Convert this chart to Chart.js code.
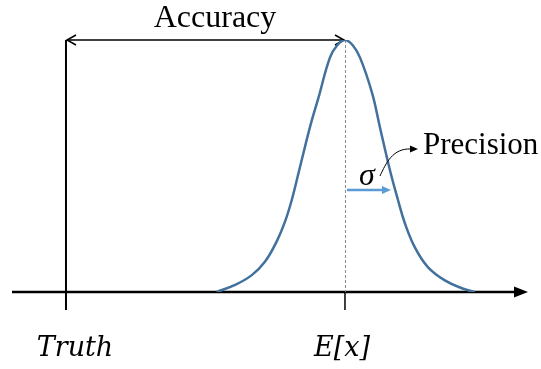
<!DOCTYPE html>
<html>
<head>
<meta charset="utf-8">
<script src="https://cdn.jsdelivr.net/npm/chart.js@4/dist/chart.umd.min.js"></script>
<style>
  html, body { margin: 0; padding: 0; background: #fff; }
  canvas { display: block; }
</style>
</head>
<body>
<canvas id="accChart" width="541" height="369"></canvas>
<script>
// --- data (Truth = 0, E[x] = 10, peak height = 1) ---
const curveX = [5.40, 6.06, 6.66, 7.13, 7.55, 7.85, 8.09, 8.33, 8.57, 8.81, 9.04, 9.46, 9.73, 10.0,
                10.27, 10.54, 10.97, 11.25, 11.61, 11.90, 12.15, 12.51, 12.97, 13.58, 14.19, 14.66];
const curveY = [0.0, 0.028, 0.067, 0.120, 0.200, 0.279, 0.364, 0.470, 0.578, 0.681, 0.767, 0.930, 0.980, 1.0,
                0.980, 0.930, 0.790, 0.655, 0.484, 0.365, 0.272, 0.176, 0.099, 0.046, 0.015, 0.0];
const tickValues = [0, 10];
const tickLabels = ['Truth', 'E[x]'];
const meanX = 10;
const sigma = 1.65;
const peakY = 1;

const curveColor = '#41719C';
const sigmaColor = '#5B9BD5';

function arrowHeadFilled(ctx, x, y, dir, len, half) {
    // dir: góc (radian)
    ctx.save();
    ctx.translate(x, y);
    ctx.rotate(dir);
    ctx.beginPath();
    ctx.moveTo(0, 0);
    ctx.lineTo(-len, -half);
    ctx.lineTo(-len, half);
    ctx.closePath();
    ctx.fill();
    ctx.restore();
}

function arrowHeadOpen(ctx, x, y, dir, len, half) {
    ctx.save();
    ctx.translate(x, y);
    ctx.rotate(dir);
    ctx.beginPath();
    ctx.moveTo(-len, -half);
    ctx.lineTo(0, 0);
    ctx.lineTo(-len, half);
    ctx.stroke();
    ctx.restore();
}

// vẽ trục, nhãn, mũi tên
const diagramPlugin = {
    id: 'diagram',
    beforeDatasetsDraw(chart) {
        const ctx = chart.ctx;
        const xs = chart.scales.x, ys = chart.scales.y;
        const y0 = ys.getPixelForValue(0);
        const yTop = ys.getPixelForValue(peakY);
        const xTruth = xs.getPixelForValue(tickValues[0]);
        const xMean = xs.getPixelForValue(tickValues[1]);

        ctx.save();
        ctx.strokeStyle = '#000';
        ctx.fillStyle = '#000';

        // trục ngang + mũi tên
        ctx.lineWidth = 2.5;
        ctx.beginPath();
        ctx.moveTo(12, y0);
        ctx.lineTo(517, y0);
        ctx.stroke();
        arrowHeadFilled(ctx, 528, y0, 0, 14, 5.5);

        // đường Truth (có vạch dưới trục)
        ctx.lineWidth = 2;
        ctx.beginPath();
        ctx.moveTo(xTruth, yTop);
        ctx.lineTo(xTruth, y0 + 18);
        ctx.stroke();

        // vạch E[x]
        ctx.lineWidth = 1.5;
        ctx.beginPath();
        ctx.moveTo(xMean, y0);
        ctx.lineTo(xMean, y0 + 18);
        ctx.stroke();

        // nét đứt từ đỉnh
        ctx.strokeStyle = '#8a8a8a';
        ctx.lineWidth = 1;
        ctx.setLineDash([3, 2]);
        ctx.beginPath();
        ctx.moveTo(xMean + 0.5, yTop);
        ctx.lineTo(xMean + 0.5, y0);
        ctx.stroke();
        ctx.setLineDash([]);

        // mũi tên hai đầu Accuracy
        ctx.strokeStyle = '#000';
        ctx.lineWidth = 1.5;
        ctx.beginPath();
        ctx.moveTo(xTruth + 1, yTop);
        ctx.lineTo(xMean - 1, yTop);
        ctx.stroke();
        arrowHeadOpen(ctx, xTruth + 1, yTop, Math.PI, 9, 5);
        arrowHeadOpen(ctx, xMean - 1, yTop, 0, 9, 5);

        ctx.restore();
    },
    afterDatasetsDraw(chart) {
        const ctx = chart.ctx;
        const xs = chart.scales.x;
        const xMean = xs.getPixelForValue(meanX);
        const xSig = xs.getPixelForValue(meanX + sigma);

        ctx.save();
        // mũi tên sigma
        ctx.strokeStyle = sigmaColor;
        ctx.fillStyle = sigmaColor;
        ctx.lineWidth = 2.5;
        const ySig = 190;
        ctx.beginPath();
        ctx.moveTo(xMean + 2, ySig);
        ctx.lineTo(xSig - 8, ySig);
        ctx.stroke();
        arrowHeadFilled(ctx, xSig, ySig, 0, 9, 4);

        // nhãn
        ctx.fillStyle = '#000';
        ctx.textBaseline = 'alphabetic';
        ctx.textAlign = 'center';
        ctx.font = '32px "Liberation Serif", "Times New Roman", serif';
        ctx.fillText('Accuracy', 215, 27);
        ctx.font = '31px "Liberation Serif", "Times New Roman", serif';
        ctx.textAlign = 'left';
        ctx.fillText('Precision', 423, 154);

        ctx.font = 'italic 32px "Liberation Serif", serif';
        ctx.textAlign = 'center';
        ctx.fillText('σ', 367, 185);

        ctx.font = 'italic 27px "DejaVu Serif", serif';
        tickValues.forEach((v, i) => {
            ctx.fillText(tickLabels[i], xs.getPixelForValue(v) + (i === 0 ? 9 : -3), 356);
        });

        // mũi tên cong chỉ tới Precision
        ctx.strokeStyle = '#000';
        ctx.fillStyle = '#000';
        ctx.lineWidth = 1;
        ctx.beginPath();
        ctx.moveTo(380, 176);
        ctx.bezierCurveTo(386, 163, 393, 148, 411, 149);
        ctx.stroke();
        arrowHeadFilled(ctx, 418, 149, 0, 8, 3.5);

        ctx.restore();
    }
};

function createChart() {
    const el = document.getElementById('accChart');
    const points = curveX.map((x, i) => ({ x: x, y: curveY[i] }));

    new Chart(el, {
        type: 'scatter',
        data: {
            datasets: [{
                data: points,
                showLine: true,
                borderColor: curveColor,
                borderWidth: 2.5,
                pointRadius: 0,
                tension: 0.4,
                fill: false
            }]
        },
        options: {
            responsive: false,
            animation: false,
            layout: { padding: { left: 12, right: 13, top: 40, bottom: 77 } },
            scales: {
                x: { type: 'linear', min: -1.935, max: 16.56, display: false },
                y: { min: 0, max: 1, display: false }
            },
            plugins: {
                legend: { display: false },
                tooltip: { enabled: false }
            }
        },
        plugins: [diagramPlugin]
    });
}

createChart();
</script>
</body>
</html>
